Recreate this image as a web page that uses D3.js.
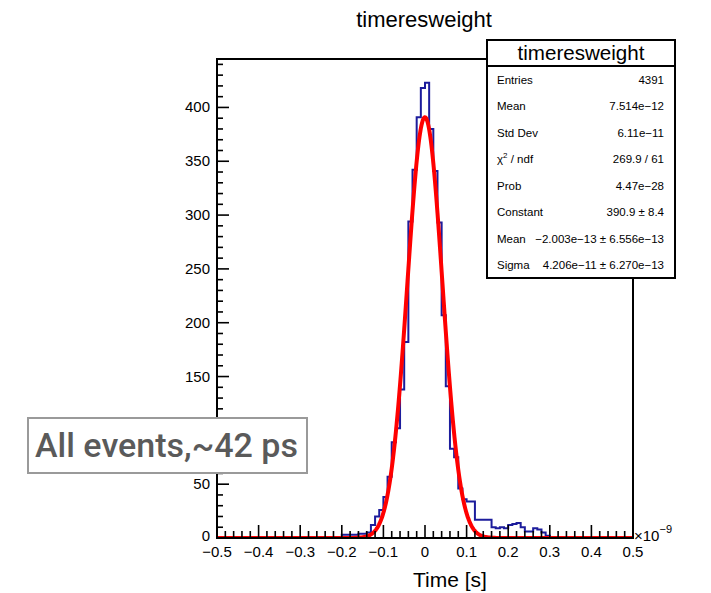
<!DOCTYPE html>
<html>
<head>
<meta charset="utf-8">
<title>timeresweight</title>
<script src="https://cdn.jsdelivr.net/npm/d3@7"></script>
<style>
html, body { margin: 0; padding: 0; background: #fff; }
svg { display: block; font-family: "Liberation Sans", Arial, Helvetica, sans-serif; }
</style>
</head>
<body>
<div id="chart"></div>
<script>
// histogram: 100 bins of 0.01 (x1e-9 s) from -0.5 to 0.5
const binLow = -0.5;
const binWidth = 0.01;
const counts = [
  0, 0, 0, 0, 0, 0, 0, 0, 0, 0,
  0, 0, 0, 0, 0, 0, 0, 0, 0, 0,
  0, 0, 0, 0, 0, 0, 0, 0, 0, 1,
  3, 3, 3, 3, 4, 4, 5, 12, 20, 26,
  38, 57, 89, 102, 138, 182, 294, 342, 391, 418,
  423, 380, 341, 293, 207, 141, 83, 75, 46, 36,
  34, 34, 17, 17, 17, 17, 10, 9, 10, 9,
  12, 13, 14, 10, 6, 6, 9, 8, 5, 2,
  1, 0, 0, 0, 0, 0, 0, 0, 0, 1,
  0, 0, 0, 0, 0, 0, 0, 0, 0, 0
];

// gaus fit result (x in units of 1e-9)
const fitConstant = 390.9;
const fitMean = -2.003e-4;
const fitSigma = 4.206e-2;

const xTicks = [-0.5, -0.4, -0.3, -0.2, -0.1, 0, 0.1, 0.2, 0.3, 0.4, 0.5];
const yTicks = [0, 50, 150, 200, 250, 300, 350, 400]; // 100 sits under the note box

const statLabels = ["Entries", "Mean", "Std Dev", "chi2", "Prob", "Constant", "Mean", "Sigma"];
const statValues = ["4391", "7.514e\u221212", "6.11e\u221211", "269.9 / 61", "4.47e\u221228",
  "390.9 \u00b1 8.4", "\u22122.003e\u221213 \u00b1 6.556e\u221213", "4.206e\u221211 \u00b1 6.270e\u221213"];

const W = 711, H = 593;
const svg = d3.select("#chart").append("svg").attr("width", W).attr("height", H);

const x = d3.scaleLinear().domain([-0.5, 0.5]).range([217, 633]);
const y = d3.scaleLinear().domain([0, 445]).range([538, 59]);
const fmt = v => (v < 0 ? "\u2212" : "") + (v === 0 ? "0" : Math.abs(v).toFixed(1));

svg.append("text").attr("x", 424).attr("y", 27).attr("text-anchor", "middle")
  .attr("font-size", 22).text("timeresweight");

svg.append("clipPath").attr("id", "frame")
  .append("rect").attr("x", 217).attr("y", 59).attr("width", 416).attr("height", 479);

const plot = svg.append("g").attr("clip-path", "url(#frame)");

// histogram outline
const pts = counts.map((c, i) => [binLow + i * binWidth, c]);
pts.unshift([binLow, 0]);
pts.push([binLow + counts.length * binWidth, counts[counts.length - 1]]);
pts.push([binLow + counts.length * binWidth, 0]);
plot.append("path")
  .attr("d", d3.line().x(d => x(d[0])).y(d => y(d[1])).curve(d3.curveStepAfter)(pts))
  .attr("fill", "none").attr("stroke", "#1c1c9c").attr("stroke-width", 2);

// fit curve
const gaus = t => fitConstant * Math.exp(-0.5 * Math.pow((t - fitMean) / fitSigma, 2));
const fx = d3.range(0, 1001).map(i => -0.5 + i / 1000);
plot.append("path")
  .attr("d", d3.line().x(d => x(d)).y(d => y(gaus(d)))(fx))
  .attr("fill", "none").attr("stroke", "#ff0000").attr("stroke-width", 4)
  .attr("stroke-linejoin", "round");

// axes (ROOT style: ticks inside)
const axes = svg.append("g").attr("stroke", "#000").attr("fill", "none");
axes.append("rect").attr("x", 217).attr("y", 59).attr("width", 416).attr("height", 479)
  .attr("stroke-width", 2);

const xMinor = d3.range(0, 51).map(i => -0.5 + i * 0.02);
axes.selectAll("line.xm").data(xMinor).join("line")
  .attr("x1", d => x(d)).attr("x2", d => x(d))
  .attr("y1", 538).attr("y2", d => xTicks.some(t => Math.abs(t - d) < 1e-6) ? 525 : 531)
  .attr("stroke-width", 1.6);

const yMinor = d3.range(0, 45).map(i => i * 10);
axes.selectAll("line.ym").data(yMinor).join("line")
  .attr("y1", d => y(d)).attr("y2", d => y(d))
  .attr("x1", 217).attr("x2", d => d % 50 === 0 ? 229 : 223)
  .attr("stroke-width", 1.6);

svg.append("g").selectAll("text").data(xTicks).join("text")
  .attr("x", d => x(d)).attr("y", 557).attr("text-anchor", "middle")
  .attr("font-size", 15).text(fmt);

svg.append("g").selectAll("text").data(yTicks).join("text")
  .attr("x", 210).attr("y", d => y(d) + (d === 0 ? 3 : 5)).attr("text-anchor", "end")
  .attr("font-size", 15).text(d => d);

const exp = svg.append("text").attr("x", 634).attr("y", 541).attr("font-size", 15);
exp.append("tspan").text("\u00d710");
exp.append("tspan").attr("dy", -8).attr("font-size", 11).text("\u22129");

svg.append("text").attr("x", 450).attr("y", 587).attr("text-anchor", "middle")
  .attr("font-size", 21).text("Time [s]");

// stats box
const sb = { x0: 487, y0: 40, x1: 675, y1: 278, head: 66 };
svg.append("rect").attr("x", sb.x0).attr("y", sb.y0).attr("width", sb.x1 - sb.x0)
  .attr("height", sb.y1 - sb.y0).attr("fill", "#fff").attr("stroke", "#000").attr("stroke-width", 2);
svg.append("line").attr("x1", sb.x0).attr("x2", sb.x1).attr("y1", sb.head).attr("y2", sb.head)
  .attr("stroke", "#000").attr("stroke-width", 2);
svg.append("text").attr("x", (sb.x0 + sb.x1) / 2).attr("y", 60).attr("text-anchor", "middle")
  .attr("font-size", 20).attr("textLength", 127).attr("lengthAdjust", "spacingAndGlyphs")
  .text("timeresweight");

const rowY = d3.scaleLinear().domain([0, 7]).range([84, 269]);
const rows = svg.append("g").attr("font-size", 11.5);
statLabels.forEach((lab, i) => {
  const t = rows.append("text").attr("x", 497).attr("y", rowY(i));
  if (lab === "chi2") {
    t.append("tspan").text("\u03c7");
    t.append("tspan").attr("dy", -5).attr("font-size", 8).text("2");
    t.append("tspan").attr("dy", 5).text(" / ndf");
  } else {
    t.text(lab);
  }
  rows.append("text").attr("x", 664).attr("y", rowY(i)).attr("text-anchor", "end").text(statValues[i]);
});

// annotation box
svg.append("rect").attr("x", 28).attr("y", 418).attr("width", 279).attr("height", 55)
  .attr("fill", "#fff").attr("stroke", "#9a9a9a").attr("stroke-width", 2);
svg.append("text").attr("x", 35).attr("y", 457).attr("font-family", "Roboto, sans-serif")
  .attr("font-size", 33).attr("font-weight", 500).attr("fill", "#5a5a5a")
  .attr("textLength", 263).attr("lengthAdjust", "spacingAndGlyphs")
  .text("All events,~42 ps");
</script>
</body>
</html>
